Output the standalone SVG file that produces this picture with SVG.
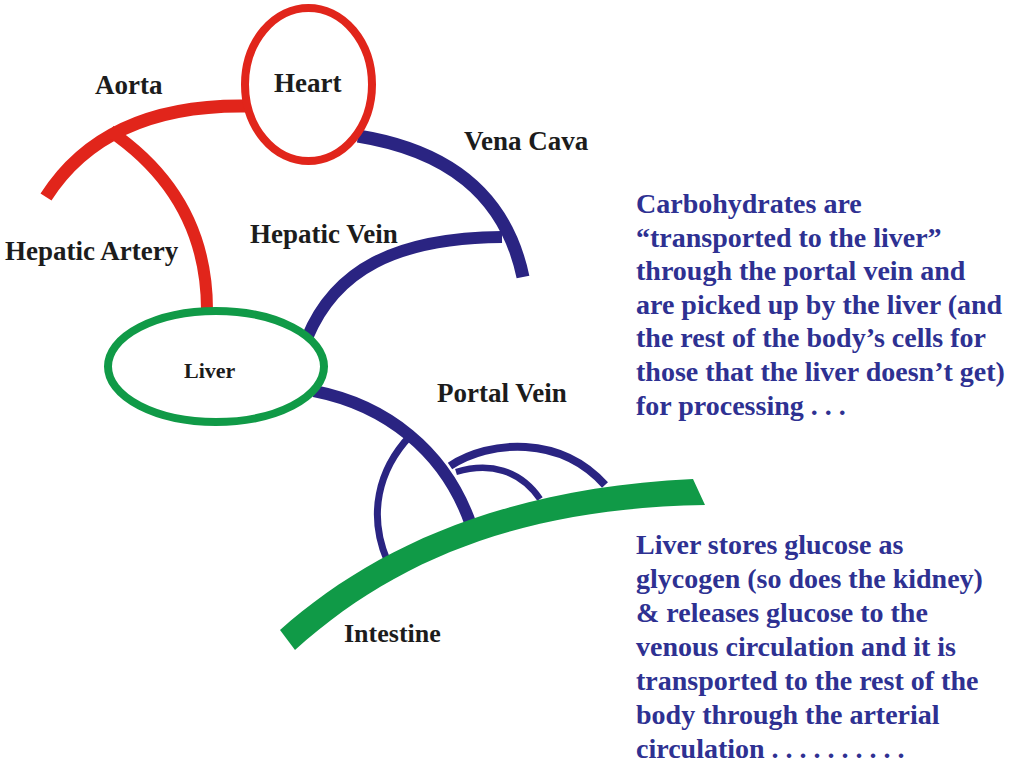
<svg xmlns="http://www.w3.org/2000/svg" width="1024" height="768" viewBox="0 0 1024 768">
  <style>
    .red { fill: none; stroke: #e1251b; stroke-linecap: butt; }
    .blue { fill: none; stroke: #2a2482; stroke-linecap: butt; }
    .lbl { font-family: "Liberation Serif", "Times New Roman", serif; font-weight: bold; font-size: 27px; fill: #1c1c1c; }
    .note { font-family: "Liberation Serif", "Times New Roman", serif; font-weight: bold; font-size: 28px; fill: #2e3192; }
  </style>
  <rect width="1024" height="768" fill="#ffffff"/>
  <g id="connectors">
    <path id="aorta" class="red" stroke-width="13" d="M 246 106 C 170 105, 92 125, 46 197"/>
    <path id="hepatic-artery" class="red" stroke-width="12" d="M 110 131 C 170 172, 207 230, 207 310"/>
    <path id="vena-cava" class="blue" stroke-width="13" d="M 358 136 C 445 150, 505 192, 523 277"/>
    <path id="hepatic-vein" class="blue" stroke-width="12" d="M 307 338 C 335 270, 395 238, 502 237"/>
    <path id="portal-vein" class="blue" stroke-width="12" d="M 314 391 C 385 405, 445 450, 471 525"/>
    <path id="portal-branch-left" class="blue" stroke-width="7" d="M 410 436 C 378 470, 368 515, 387 560"/>
    <path id="portal-branch-upper" class="blue" stroke-width="8" d="M 450 466 C 490 440, 560 435, 605 485"/>
    <path id="portal-branch-lower" class="blue" stroke-width="6.5" d="M 456 472 C 490 462, 520 470, 540 499"/>
  </g>
  <g id="heart">
    <ellipse cx="308.5" cy="84.5" rx="63.5" ry="76.5" fill="#ffffff" stroke="#e1251b" stroke-width="8"/>
    <text class="lbl" x="274" y="92">Heart</text>
  </g>
  <g id="liver">
    <ellipse cx="216" cy="366.5" rx="108" ry="55.5" fill="#ffffff" stroke="#109a47" stroke-width="8"/>
    <text class="lbl" x="184" y="378" font-size="22" style="font-size:22px">Liver</text>
  </g>
  <g id="intestine">
    <path d="M 280 630 C 370 550, 500 488, 693 479 L 705 505 C 530 508, 400 555, 295 650 Z" fill="#109a47"/>
    <text class="lbl" x="344" y="642" style="font-size:26px">Intestine</text>
  </g>
  <g id="labels">
    <text class="lbl" x="95" y="94">Aorta</text>
    <text class="lbl" x="464" y="150">Vena Cava</text>
    <text class="lbl" x="250" y="243">Hepatic Vein</text>
    <text class="lbl" x="5" y="260">Hepatic Artery</text>
    <text class="lbl" x="437" y="402">Portal Vein</text>
  </g>
  <g id="note-carbohydrates">
    <text class="note" x="636" y="213">Carbohydrates are</text>
    <text class="note" x="636" y="246.6">“transported to the liver”</text>
    <text class="note" x="636" y="280.2">through the portal vein and</text>
    <text class="note" x="636" y="313.8">are picked up by the liver (and</text>
    <text class="note" x="636" y="347.4">the rest of the body’s cells for</text>
    <text class="note" x="636" y="381">those that the liver doesn’t get)</text>
    <text class="note" x="636" y="414.6">for processing . . .</text>
  </g>
  <g id="note-glycogen">
    <text class="note" x="636" y="554">Liver stores glucose as</text>
    <text class="note" x="636" y="588">glycogen (so does the kidney)</text>
    <text class="note" x="636" y="622">&amp; releases glucose to the</text>
    <text class="note" x="636" y="656">venous circulation and it is</text>
    <text class="note" x="636" y="690">transported to the rest of the</text>
    <text class="note" x="636" y="724">body through the arterial</text>
    <text class="note" x="636" y="758">circulation . . . . . . . . . .</text>
  </g>
</svg>
